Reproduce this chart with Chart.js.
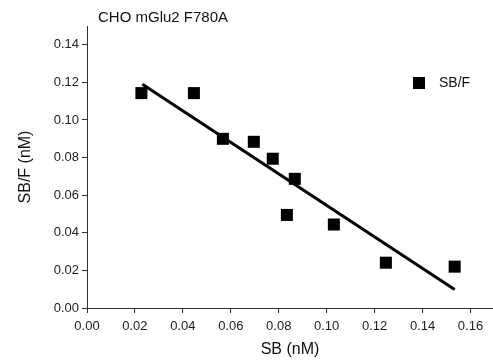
<!DOCTYPE html>
<html>
<head>
<meta charset="utf-8">
<script src="https://cdn.jsdelivr.net/npm/chart.js@4/dist/chart.umd.min.js"></script>
<style>
  html, body { margin: 0; padding: 0; background: #fff; }
  #wrap { width: 493px; height: 360px; }
</style>
</head>
<body>
<div id="wrap"><canvas id="chart" width="493" height="360"></canvas></div>
<script>
const CHART_TITLE = 'CHO mGlu2 F780A';
const SERIES_LABEL = 'SB/F';
const X_TITLE = 'SB (nM)';
const Y_TITLE = 'SB/F (nM)';

// bound / free values
const sbValues = [0.0227, 0.0446, 0.0567, 0.0696, 0.0775, 0.0867, 0.0834, 0.1030, 0.1247, 0.1534];
const sbfValues = [0.1143, 0.1143, 0.0900, 0.0884, 0.0794, 0.0687, 0.0495, 0.0444, 0.0241, 0.0220];

// regression line end points
const fitX = [0.0231, 0.1534];
const fitY = [0.1190, 0.0099];

const X_TICKS = [0, 0.02, 0.04, 0.06, 0.08, 0.10, 0.12, 0.14, 0.16];
const Y_TICKS = [0, 0.02, 0.04, 0.06, 0.08, 0.10, 0.12, 0.14];

const FONT = "'Liberation Sans', Arial, Helvetica, sans-serif";
const AXIS_COLOR = '#333';

const scatterPoints = sbValues.map((x, i) => ({ x, y: sbfValues[i] }));
const fitPoints = fitX.map((x, i) => ({ x, y: fitY[i] }));

// title + legend drawn in the corners of the plot
const decorPlugin = {
  id: 'decor',
  afterDraw(chart) {
    const { ctx, chartArea } = chart;
    ctx.save();
    ctx.fillStyle = '#111';
    ctx.textBaseline = 'middle';
    ctx.textAlign = 'left';
    ctx.font = `15px ${FONT}`;
    ctx.fillText(CHART_TITLE, chartArea.left + 11, chartArea.top - 8);

    const lx = chartArea.left + 332;
    const ly = chartArea.top + 57;
    ctx.fillStyle = '#000';
    ctx.fillRect(lx - 6, ly - 6, 12, 12);
    ctx.fillStyle = '#111';
    ctx.font = `14px ${FONT}`;
    ctx.fillText(SERIES_LABEL, lx + 20, ly);
    ctx.restore();
  }
};

function axisOpts(ticks, titleText, min, max) {
  return {
    type: 'linear',
    min, max,
    afterBuildTicks: axis => { axis.ticks = ticks.map(v => ({ value: v })); },
    grid: { drawOnChartArea: false, drawTicks: true, tickLength: 5, color: AXIS_COLOR },
    border: { display: true, color: AXIS_COLOR, width: 1 },
    ticks: {
      color: '#222',
      font: { family: FONT, size: 13 },
      padding: 3,
      callback: v => Number(v).toFixed(2),
    },
    title: { display: true, text: titleText, color: '#111', font: { family: FONT, size: 16 } },
  };
}

const xAxis = axisOpts(X_TICKS, X_TITLE, 0, 0.1694);
xAxis.ticks.padding = 6;
xAxis.ticks.maxRotation = 0;
xAxis.title.padding = { top: 0, bottom: 1 };
xAxis.afterFit = s => { s.height = 52; };

const yAxis = axisOpts(Y_TICKS, Y_TITLE, 0, 0.15);
yAxis.title.padding = { top: 16, bottom: 0 };
yAxis.afterFit = s => { s.width = 87; };

new Chart(document.getElementById('chart'), {
  type: 'scatter',
  data: {
    datasets: [
      {
        label: SERIES_LABEL,
        data: scatterPoints,
        pointStyle: 'rect',
        pointRadius: 8.5,
        pointBackgroundColor: '#000',
        pointBorderWidth: 0,
        showLine: false,
      },
      {
        label: 'fit',
        data: fitPoints,
        showLine: true,
        borderColor: '#000',
        borderWidth: 3,
        pointRadius: 0,
        fill: false,
      },
    ],
  },
  options: {
    responsive: false,
    animation: false,
    layout: { autoPadding: false, padding: { top: 26, left: 0, right: 0, bottom: 0 } },
    plugins: {
      legend: { display: false },
      tooltip: { enabled: false },
    },
    scales: { x: xAxis, y: yAxis },
  },
  plugins: [decorPlugin],
});
</script>
</body>
</html>
